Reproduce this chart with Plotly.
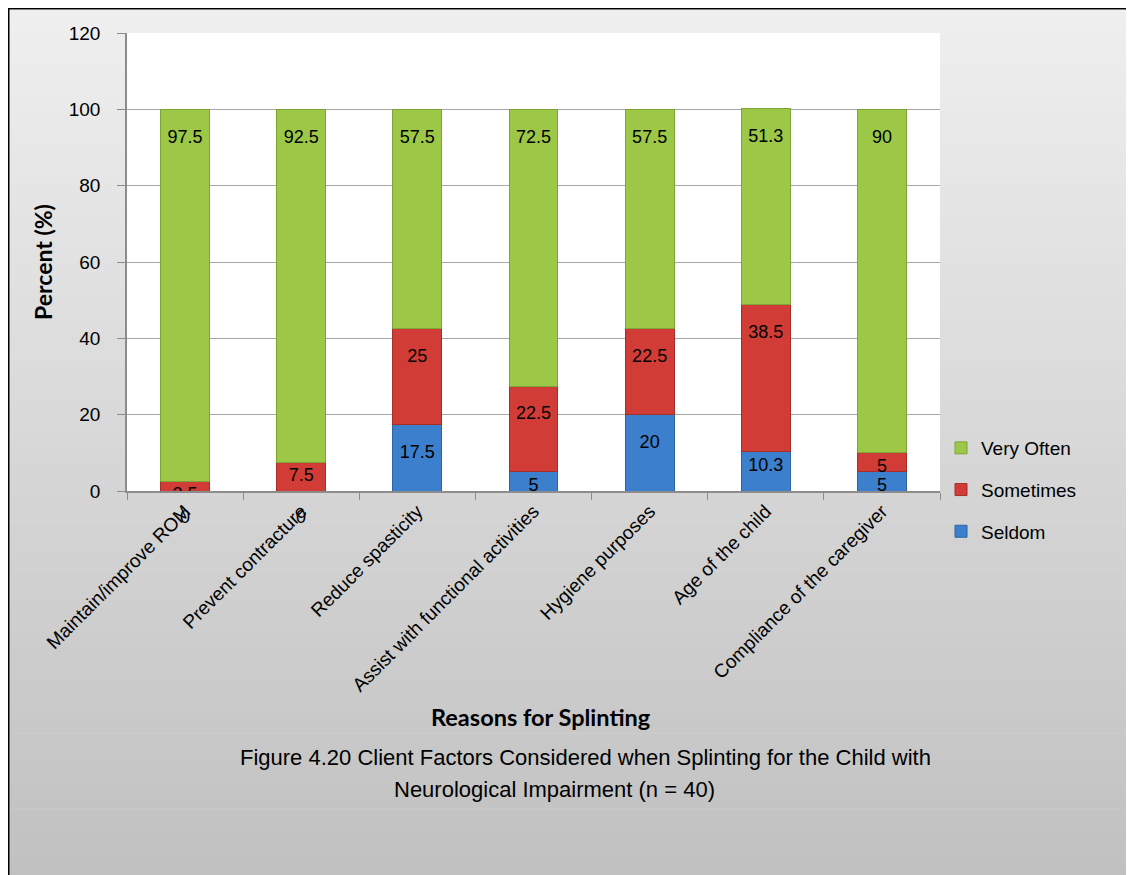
import plotly.graph_objects as go

categories = ["Maintain/improve ROM", "Prevent contracture", "Reduce spasticity",
              "Assist with functional activities", "Hygiene purposes",
              "Age of the child", "Compliance of the caregiver"]
seldom = [0, 0, 17.5, 5, 20, 10.3, 5]
sometimes = [2.5, 7.5, 25, 22.5, 22.5, 38.5, 5]
very_often = [97.5, 92.5, 57.5, 72.5, 57.5, 51.3, 90]
series_names = ["Seldom", "Sometimes", "Very Often"]
y_ticks = [0, 20, 40, 60, 80, 100, 120]

W, H = 1134, 875
OFF = 8  # page body margin
L, R, T, B = 119, 202, 25, 392
PW, PH = W - L - R, H - T - B


def fx(page_x):
    return (page_x - OFF - L) / PW


def fy(page_y):
    return (H - B - (page_y - OFF)) / PH


TXT = "Liberation Sans, Arial, sans-serif"
BOLD = "Lato, Open Sans, Liberation Sans, sans-serif"

colors = ["#3b7fcd", "#d23c37", "#9dc847"]
lines = ["#2c64a6", "#a52e2a", "#7da535"]
ranks = [3, 2, 1]
PAD = "<span style='font-size:8px'>&nbsp;</span><br>"

fig = go.Figure()
for name, vals, c, lc, rk in zip(series_names, [seldom, sometimes, very_often], colors, lines, ranks):
    labels = []
    for v in vals:
        if v == 0:
            labels.append("")
        elif v >= 15:
            labels.append(PAD + f"{v:g}")
        else:
            labels.append(f"{v:g}")
    fig.add_trace(go.Bar(
        x=categories, y=vals, name=name,
        marker=dict(color=c, line=dict(color=lc, width=1)),
        text=labels,
        textposition="inside", insidetextanchor="end", textangle=0,
        constraintext="none",
        textfont=dict(family=TXT, size=18, color="black"),
        legendgroup=name, legendrank=rk,
    ))

shapes = []
# gradient background
N = 70
y_top, y_bot = 2, H
c_top, c_bot = (0xEF, 0xEF, 0xEF), (0xC0, 0xC0, 0xC0)
for i in range(N):
    a = y_top + (y_bot - y_top) * i / N
    b = y_top + (y_bot - y_top) * (i + 1) / N
    f = (i + 0.5) / N
    col = "rgb(%d,%d,%d)" % tuple(int(round(c_top[k] + (c_bot[k] - c_top[k]) * f)) for k in range(3))
    shapes.append(dict(type="rect", xref="paper", yref="paper",
                       x0=fx(OFF + 1), x1=fx(OFF + W), y0=fy(OFF + b + 0.5), y1=fy(OFF + a),
                       fillcolor=col, line=dict(width=0), layer="below"))
# plot area white
shapes.append(dict(type="rect", xref="paper", yref="paper", x0=0, x1=1, y0=0, y1=1,
                   fillcolor="white", line=dict(width=0), layer="below"))
# border
shapes.append(dict(type="rect", xref="paper", yref="paper",
                   x0=fx(OFF + 0.5), x1=fx(OFF + W - 1), y0=fy(OFF + H - 1), y1=fy(OFF + 0.5),
                   line=dict(color="black", width=2), fillcolor="rgba(0,0,0,0)"))

annotations = []
for cat, v in zip(categories, seldom):
    if v == 0:
        annotations.append(dict(x=cat, y=0, xref="x", yref="y", text="0", showarrow=False,
                                yshift=-26, yanchor="middle",
                                font=dict(family=TXT, size=18, color="black")))
annotations.append(dict(x=fx(541), y=fy(717), xref="paper", yref="paper",
                        xanchor="center", yanchor="middle",
                        text="<b>Reasons for Splinting</b>", showarrow=False,
                        font=dict(family=BOLD, size=23.5, color="black")))
annotations.append(dict(x=fx(585), y=fy(758), xref="paper", yref="paper",
                        xanchor="center", yanchor="middle",
                        text="Figure 4.20 Client Factors Considered when Splinting for the Child with",
                        showarrow=False, font=dict(family=TXT, size=22, color="black")))
annotations.append(dict(x=fx(554), y=fy(789), xref="paper", yref="paper",
                        xanchor="center", yanchor="middle",
                        text="Neurological Impairment (n = 40)",
                        showarrow=False, font=dict(family=TXT, size=22, color="black")))

fig.update_layout(
    width=W, height=H,
    margin=dict(l=L, r=R, t=T, b=B, autoexpand=False),
    barmode="stack", bargap=0.58,
    paper_bgcolor="white", plot_bgcolor="rgba(0,0,0,0)",
    shapes=shapes, annotations=annotations,
    showlegend=True,
    legend=dict(x=fx(941), y=fy(429), xanchor="left", yanchor="top",
                traceorder="grouped", tracegroupgap=14,
                bgcolor="rgba(0,0,0,0)",
                font=dict(family=TXT, size=19, color="black"),
                itemwidth=30),
)
fig.update_xaxes(
    tickangle=-45, tickfont=dict(family=TXT, size=19, color="black"),
    showline=True, linecolor="#8c8c8c", linewidth=1.5,
    ticks="outside", tickson="boundaries", ticklen=7, tickcolor="#8c8c8c",
    showgrid=False, automargin=False,
)
fig.update_yaxes(
    range=[0, 120], tickvals=y_ticks, ticktext=[str(t) for t in y_ticks],
    tickfont=dict(family=TXT, size=19, color="black"),
    showline=True, linecolor="#8c8c8c", linewidth=1.5,
    ticks="outside", ticklen=8, tickcolor="#8c8c8c", ticklabelstandoff=13,
    showgrid=True, gridcolor="#a6a6a6", gridwidth=1, zeroline=False,
    title=dict(text="<b>Percent (%)</b>", font=dict(family=BOLD, size=23, color="black"),
               standoff=10),
    automargin=False,
)

fig.write_html("out.html")
